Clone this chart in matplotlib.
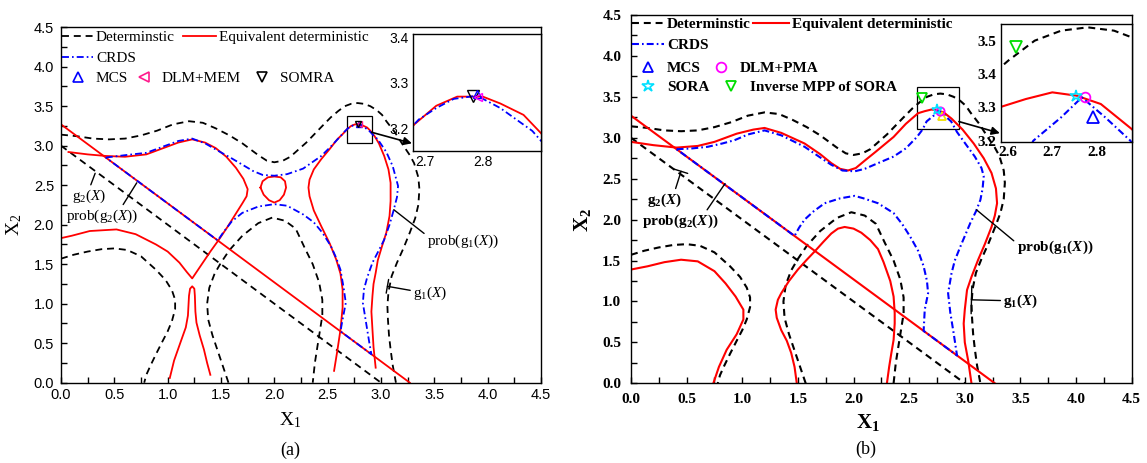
import matplotlib
matplotlib.use("Agg")
import matplotlib.pyplot as plt
from matplotlib.patches import Rectangle
from matplotlib.lines import Line2D
from matplotlib.ticker import MultipleLocator, FormatStrFormatter
from matplotlib.font_manager import FontProperties

plt.rcParams.update({
    "lines.scale_dashes": False,
    "mathtext.fontset": "custom",
    "mathtext.rm": "Liberation Serif",
    "mathtext.it": "Liberation Serif:italic",
    "mathtext.bf": "Liberation Serif:bold",
    "mathtext.bfit": "Liberation Serif:italic:bold",
    "axes.linewidth": 1.0,
})

# ---------------- data ----------------
# deterministic boundaries g1 = 0 (same in both panels)
det_top_x = [0.0, 0.15, 0.3, 0.45, 0.6, 0.75, 0.9, 1.05, 1.2, 1.33, 1.45, 1.58, 1.7, 1.85, 1.93,
             2.0, 2.08, 2.15, 2.3, 2.45, 2.53, 2.6, 2.66, 2.72, 2.78, 2.84, 2.9, 2.96, 3.01, 3.05,
             3.13, 3.21, 3.27, 3.31, 3.35, 3.36, 3.35, 3.32, 3.27, 3.21, 3.15, 3.1, 3.07, 3.06,
             3.065, 3.075, 3.09, 3.11, 3.14]
det_top_y = [3.14, 3.12, 3.09, 3.08, 3.09, 3.13, 3.19, 3.27, 3.31, 3.29, 3.22, 3.13, 3.03, 2.88, 2.81,
             2.79, 2.81, 2.86, 3.04, 3.25, 3.36, 3.44, 3.50, 3.53, 3.54, 3.53, 3.50, 3.45, 3.39, 3.31,
             3.17, 3.0, 2.88, 2.78, 2.6, 2.45, 2.25, 2.08, 1.9, 1.7, 1.52, 1.35, 1.15, 0.97,
             0.8, 0.6, 0.42, 0.22, 0.0]
det_ll_x = [0.0, 0.12, 0.25, 0.38, 0.5, 0.62, 0.75, 0.89, 0.98, 1.04, 1.07, 1.07, 1.04, 1.0, 0.95,
            0.89, 0.84, 0.8, 0.78]
det_ll_y = [1.57, 1.62, 1.66, 1.69, 1.7, 1.68, 1.6, 1.43, 1.3, 1.17, 1.05, 0.93, 0.78, 0.65, 0.52,
            0.36, 0.22, 0.1, 0.0]
det_mid_x = [1.57, 1.52, 1.47, 1.42, 1.38, 1.37, 1.39, 1.44, 1.5, 1.58, 1.7, 1.85, 1.98, 2.1, 2.2,
             2.28, 2.36, 2.42, 2.45, 2.45, 2.43, 2.41, 2.38, 2.36]
det_mid_y = [0.0, 0.2, 0.4, 0.6, 0.8, 1.0, 1.2, 1.38, 1.52, 1.68, 1.86, 2.02, 2.09, 2.05, 1.95,
             1.72, 1.5, 1.27, 1.05, 0.85, 0.68, 0.51, 0.25, 0.0]
# g2 = 0 lines
det_g2_x = [0.0, 3.0]
det_g2_y = [3.0, 0.0]
eq_g2_x = [0.0, 3.27]
eq_g2_y = [3.27, 0.0]

# panel (a): equivalent deterministic (DLM+MEM)
eqa_up_x = [0.07, 0.25, 0.42, 0.6, 0.8, 0.98, 1.1, 1.23, 1.35, 1.45, 1.55, 1.64, 1.71, 1.75, 1.74,
            1.7, 1.63, 1.56, 1.48, 1.4, 1.33, 1.27, 1.23, 1.18, 1.11, 1.0, 0.89, 0.7, 0.52, 0.27,
            0.1, 0.0]
eqa_up_y = [2.92, 2.89, 2.87, 2.86, 2.89, 2.98, 3.04, 3.08, 3.04, 2.97, 2.86, 2.72, 2.58, 2.45, 2.36,
            2.27, 2.12, 1.97, 1.81, 1.66, 1.52, 1.4, 1.32, 1.4, 1.52, 1.66, 1.75, 1.88, 1.94, 1.92,
            1.86, 1.83]
eqa_loop_x = [1.87, 1.89, 1.94, 2.0, 2.06, 2.1, 2.11, 2.09, 2.05, 2.0, 1.95, 1.9, 1.87]
eqa_loop_y = [2.47, 2.55, 2.6, 2.61, 2.6, 2.55, 2.47, 2.38, 2.31, 2.28, 2.31, 2.38, 2.47]
eqa_spike_x = [1.02, 1.06, 1.12, 1.17, 1.19, 1.2, 1.21, 1.23, 1.25, 1.255, 1.26, 1.27, 1.3, 1.34,
               1.37, 1.4]
eqa_spike_y = [0.06, 0.28, 0.51, 0.7, 0.85, 1.1, 1.19, 1.22, 1.19, 1.1, 0.9, 0.76, 0.6, 0.42,
               0.25, 0.1]
eqa_right_x = [2.56, 2.59, 2.62, 2.64, 2.64, 2.62, 2.58, 2.52, 2.44, 2.37, 2.33, 2.32, 2.33, 2.37,
               2.44, 2.52, 2.59, 2.65, 2.683, 2.72, 2.756, 2.8, 2.83, 2.87, 2.9, 2.94, 2.98, 3.03,
               3.07, 3.09, 3.09, 3.08, 3.05, 3.01, 2.97, 2.95, 2.93, 2.92, 2.91, 2.92, 2.93, 2.95]
eqa_right_y = [0.15, 0.4, 0.67, 0.95, 1.18, 1.38, 1.56, 1.76, 1.98, 2.18, 2.36, 2.47, 2.57, 2.7,
               2.83, 2.96, 3.08, 3.16, 3.21, 3.25, 3.27, 3.27, 3.255, 3.23, 3.19, 3.12, 3.03, 2.87,
               2.7, 2.53, 2.3, 2.11, 1.9, 1.73, 1.55, 1.39, 1.25, 1.1, 0.9, 0.67, 0.45, 0.19]
# panel (a): CRDS region
crds_a_x = [0.42, 0.6, 0.8, 0.98, 1.1, 1.23, 1.35, 1.48, 1.6, 1.7, 1.8, 1.89, 2.0, 2.12, 2.27,
            2.44, 2.53, 2.62, 2.66, 2.69, 2.72, 2.75, 2.79, 2.83, 2.885, 2.93, 2.97, 3.05, 3.11,
            3.16, 3.15, 3.12, 3.08, 3.03, 2.97, 2.92, 2.87, 2.84, 2.83, 2.86, 2.89, 2.91, 2.62,
            2.64, 2.67, 2.65, 2.62, 2.58, 2.53, 2.45, 2.37, 2.27, 2.12, 2.0, 1.85, 1.7, 1.6,
            1.52, 1.47, 0.42]
crds_a_y = [2.85, 2.88, 2.91, 3.0, 3.06, 3.09, 3.03, 2.93, 2.84, 2.76, 2.68, 2.63, 2.62, 2.64, 2.71,
            2.87, 2.99, 3.12, 3.18, 3.22, 3.245, 3.265, 3.272, 3.245, 3.195, 3.13, 3.08, 2.92, 2.74,
            2.49, 2.35, 2.19, 2.0, 1.81, 1.65, 1.52, 1.33, 1.18, 1.01, 0.76, 0.51, 0.36, 0.65,
            0.8, 1.01, 1.2, 1.43, 1.58, 1.73, 1.9, 2.03, 2.13, 2.24, 2.26, 2.23, 2.15, 2.04,
            1.9, 1.8, 2.85]
# panel (a): optimum points
mcs_a_x, mcs_a_y = [2.79], [3.275]
dlm_a_x, dlm_a_y = [2.792], [3.27]
somra_x, somra_y = [2.783], [3.272]

# panel (b): equivalent deterministic (DLM+PMA)
eqb_up_x = [0.0, 0.2, 0.41, 0.6, 0.75, 0.95, 1.1, 1.2, 1.35, 1.56, 1.7, 1.8, 1.88, 1.95, 2.02,
            2.1, 2.2, 2.36, 2.47, 2.58, 2.64, 2.7, 2.755, 2.81, 2.88, 2.98, 3.08, 3.17, 3.24, 3.28,
            3.29, 3.27, 3.24, 3.18, 3.12, 3.06, 3.02, 3.0, 2.99, 3.0, 3.03, 3.06]
eqb_up_y = [2.95, 2.91, 2.88, 2.9, 2.95, 3.05, 3.1, 3.12, 3.06, 2.93, 2.8, 2.69, 2.62, 2.6, 2.63,
            2.72, 2.83, 3.01, 3.17, 3.3, 3.325, 3.345, 3.335, 3.31, 3.235, 3.1, 2.93, 2.75, 2.57, 2.38,
            2.2, 2.05, 1.91, 1.7, 1.51, 1.3, 1.14, 0.9, 0.73, 0.5, 0.28, 0.0]
eqb_ll_x = [0.0, 0.15, 0.3, 0.45, 0.6, 0.75, 0.85, 0.94, 1.01, 1.01, 0.95, 0.86, 0.79, 0.74]
eqb_ll_y = [1.39, 1.43, 1.48, 1.51, 1.49, 1.37, 1.22, 1.06, 0.9, 0.78, 0.6, 0.41, 0.2, 0.0]
eqb_mid_x = [1.49, 1.47, 1.44, 1.4, 1.35, 1.31, 1.3, 1.32, 1.35, 1.42, 1.5, 1.58, 1.65, 1.73, 1.8,
             1.86, 1.92, 2.0, 2.07, 2.15, 2.22, 2.27, 2.33, 2.36, 2.37, 2.37, 2.36, 2.34, 2.32, 2.3]
eqb_mid_y = [0.0, 0.2, 0.37, 0.52, 0.65, 0.8, 0.9, 1.02, 1.1, 1.25, 1.39, 1.51, 1.61, 1.73, 1.83,
             1.89, 1.91, 1.89, 1.84, 1.75, 1.64, 1.48, 1.25, 1.06, 0.86, 0.73, 0.53, 0.37, 0.2, 0.0]
# panel (b): CRDS region
crds_b_x = [0.41, 0.55, 0.69, 0.82, 0.93, 1.05, 1.2, 1.35, 1.56, 1.7, 1.8, 1.9, 2.01, 2.1, 2.22,
            2.36, 2.47, 2.57, 2.62, 2.657, 2.72, 2.767, 2.82, 2.877, 2.93, 3.02, 3.09, 3.15, 3.17,
            3.16, 3.14, 3.1, 3.05, 2.96, 2.91, 2.88, 2.85, 2.87, 2.9, 2.93, 2.63, 2.64, 2.67,
            2.66, 2.63, 2.58, 2.51, 2.44, 2.36, 2.22, 2.09, 2.01, 1.88, 1.74, 1.64, 1.56, 1.51,
            1.47, 0.41]
crds_b_y = [2.86, 2.87, 2.89, 2.93, 2.97, 3.04, 3.09, 3.03, 2.89, 2.76, 2.67, 2.6, 2.59, 2.62, 2.69,
            2.77, 2.87, 3.01, 3.1, 3.2, 3.27, 3.33, 3.27, 3.2, 3.07, 2.9, 2.77, 2.63, 2.53,
            2.38, 2.24, 2.1, 1.96, 1.67, 1.5, 1.34, 1.1, 0.86, 0.61, 0.34, 0.64, 0.9, 1.1,
            1.25, 1.43, 1.62, 1.79, 1.94, 2.08, 2.2, 2.26, 2.29, 2.26, 2.2, 2.1, 2.0, 1.9,
            1.8, 2.86]
# panel (b): optimum points
mcs_b_x, mcs_b_y = [2.792], [3.27]
dlm_b_x, dlm_b_y = [2.773], [3.33]
sora_x, sora_y = [2.754], [3.335]
impp_x, impp_y = [2.617], [3.48]

# ---------------- styling ----------------
W, H = 1147, 463
DASH = (0, (5, 3.5))
DASHDOT = (0, (5, 2.2, 1.2, 2.2))
RED = "#ff0000"
BLUE = "#0000ff"
PINK = "#ff1a8c"
MAG = "#ff00ff"
CYAN = "#00e0ff"
GREEN = "#00dd00"

fp_a = FontProperties(family="Liberation Serif", size=11)
fp_b = FontProperties(family="Liberation Serif", size=11, weight="bold")
tick_a = FontProperties(family="Liberation Sans", size=10.5)
tick_b = FontProperties(family="Liberation Serif", size=11, weight="bold")

fig = plt.figure(figsize=(W / 100, H / 100), dpi=100)


def px_axes(left, right, top, bottom):
    return fig.add_axes([left / W, 1 - bottom / H, (right - left) / W, (bottom - top) / H])


def style_main(ax, tfp, pad_x, pad_y):
    ax.set_xlim(0, 4.5)
    ax.set_ylim(0, 4.5)
    for axis in (ax.xaxis, ax.yaxis):
        axis.set_major_locator(MultipleLocator(0.5))
        axis.set_minor_locator(MultipleLocator(0.25))
        axis.set_major_formatter(FormatStrFormatter("%.1f"))
    ax.tick_params(which="both", direction="in", length=4, width=1.0, top=False, right=False)
    ax.tick_params(axis="x", pad=pad_x)
    ax.tick_params(axis="y", pad=pad_y)
    for lab in ax.get_xticklabels() + ax.get_yticklabels():
        lab.set_fontproperties(tfp)


def entry(handle, label, x_px, y_px, fp, hl_px=31):
    em = fp.get_size_in_points() * 100 / 72
    fig.legend(handles=[handle], labels=[label], loc="center left",
               bbox_to_anchor=(x_px / W, 1 - y_px / H), frameon=False,
               borderpad=0, borderaxespad=0, handlelength=hl_px / em,
               handletextpad=3 / em, prop=fp, numpoints=1)


def leader(ax, text, xy, xytext, fp, ha, relpos, bar=None):
    props = dict(arrowstyle="-", color="k", lw=1.0, shrinkA=0, shrinkB=0, relpos=relpos)
    if bar is not None:
        props["arrowstyle"] = f"-[, widthB={bar}, lengthB=0"
        props["mutation_scale"] = 10
    ax.annotate(text, xy=xy, xytext=xytext, fontproperties=fp, ha=ha, va="center",
                arrowprops=props, annotation_clip=False)


# ======================= panel (a) =======================
ax = px_axes(61, 541, 27.2, 382.7)
lw = 1.3
for xs, ys in [(det_top_x, det_top_y), (det_ll_x, det_ll_y), (det_mid_x, det_mid_y),
               (det_g2_x, det_g2_y)]:
    ax.plot(xs, ys, color="k", ls=DASH, lw=lw)
for xs, ys in [(eqa_up_x, eqa_up_y), (eqa_loop_x, eqa_loop_y), (eqa_spike_x, eqa_spike_y),
               (eqa_right_x, eqa_right_y), (eq_g2_x, eq_g2_y)]:
    ax.plot(xs, ys, color=RED, lw=lw)
ax.plot(crds_a_x, crds_a_y, color=BLUE, ls=DASHDOT, lw=lw)
ax.plot(mcs_a_x, mcs_a_y, ls="none", marker="^", mfc="none", mec=BLUE, ms=5)
ax.plot(dlm_a_x, dlm_a_y, ls="none", marker="<", mfc="none", mec=PINK, ms=5)
ax.plot(somra_x, somra_y, ls="none", marker="v", mfc="none", mec="k", ms=5)
ax.add_patch(Rectangle((2.678, 3.04), 0.234, 0.336, fill=False, ec="k", lw=0.9))
ax.annotate("", xy=(3.29, 3.03), xytext=(2.912, 3.17),
            arrowprops=dict(arrowstyle="-|>", color="k", lw=1.2, mutation_scale=12,
                            shrinkA=0, shrinkB=0), annotation_clip=False)
style_main(ax, tick_a, 4, 5)
ax.set_xlabel("X$_1$", fontproperties=FontProperties(family="Liberation Serif", size=14))
ax.set_ylabel("X$_2$", fontproperties=FontProperties(family="Liberation Serif", size=14))
ax.xaxis.set_label_coords(0.477, -0.077)
ax.yaxis.set_label_coords(-0.077, 0.444)

leader(ax, "g$_2$($\\mathit{X}$)", (0.32, 2.65), (0.26, 2.36), fp_a, "center", (0.53, 1.0))
leader(ax, "prob(g$_2$($\\mathit{X}$))", (0.71, 2.53), (0.39, 2.11), fp_a, "center", (0.76, 1.0))
leader(ax, "prob(g$_1$($\\mathit{X}$))", (3.12, 2.19), (3.43, 1.785), fp_a, "left", (0.0, 0.85))
leader(ax, "g$_1$($\\mathit{X}$)", (3.06, 1.22), (3.30, 1.13), fp_a, "left", (0.0, 0.65), bar=0.5)

h_det = Line2D([], [], color="k", ls=DASH, lw=lw)
h_eq = Line2D([], [], color=RED, lw=lw)
h_crds = Line2D([], [], color=BLUE, ls=DASHDOT, lw=lw)
entry(h_det, "Determinstic", 62, 37, fp_a)
entry(h_eq, "Equivalent deterministic", 183, 37, fp_a, hl_px=33)
entry(h_crds, "CRDS", 62, 58, fp_a)
entry(Line2D([], [], ls="none", marker="^", mfc="none", mec=BLUE, ms=7, mew=1.2),
      "MCS", 62, 78, fp_a)
entry(Line2D([], [], ls="none", marker="<", mfc="none", mec=PINK, ms=7, mew=1.2),
      "DLM+MEM", 128, 78, fp_a)
entry(Line2D([], [], ls="none", marker="v", mfc="none", mec="k", ms=7, mew=1.2),
      "SOMRA", 246, 78, fp_a)

# inset (a)
ins = px_axes(413, 541, 34, 151)
ins.plot(eqa_right_x, eqa_right_y, color=RED, lw=lw)
ins.plot(crds_a_x, crds_a_y, color=BLUE, ls=DASHDOT, lw=lw)
ins.plot(somra_x, somra_y, ls="none", marker="v", mfc="none", mec="k", ms=8, mew=1.0)
ins.plot(mcs_a_x, mcs_a_y, ls="none", marker="^", mfc="none", mec=BLUE, ms=6, mew=1.0)
ins.plot(dlm_a_x, dlm_a_y, ls="none", marker="<", mfc="none", mec=MAG, ms=6, mew=1.0)
ins.set_xlim(2.68, 2.9)
ins.set_ylim(3.151, 3.407)
ins.set_xticks([2.7, 2.8])
ins.set_yticks([3.2, 3.3, 3.4])
ins.tick_params(length=0, pad=3)
for lab in ins.get_xticklabels() + ins.get_yticklabels():
    lab.set_fontproperties(FontProperties(family="Liberation Sans", size=10))

fig.text(290 / W, 1 - 450 / H, "(a)", ha="center", va="center",
         fontproperties=FontProperties(family="Liberation Serif", size=13))

# ======================= panel (b) =======================
ax = px_axes(631, 1131.7, 15, 383.3)
lw = 1.5
for xs, ys in [(det_top_x, det_top_y), (det_ll_x, det_ll_y), (det_mid_x, det_mid_y),
               (det_g2_x, det_g2_y)]:
    ax.plot(xs, ys, color="k", ls=DASH, lw=lw)
for xs, ys in [(eqb_up_x, eqb_up_y), (eqb_ll_x, eqb_ll_y), (eqb_mid_x, eqb_mid_y),
               (eq_g2_x, eq_g2_y)]:
    ax.plot(xs, ys, color=RED, lw=lw)
ax.plot(crds_b_x, crds_b_y, color=BLUE, ls=DASHDOT, lw=lw)
ax.plot(impp_x, impp_y, ls="none", marker="v", mfc="none", mec=GREEN, ms=7, mew=1.3)
ax.plot(mcs_b_x, mcs_b_y, ls="none", marker="^", mfc="none", mec="#f0e000", ms=6, mew=1.3)
ax.plot(dlm_b_x, dlm_b_y, ls="none", marker="o", mfc="none", mec=MAG, ms=6, mew=1.3)
ax.plot(sora_x, sora_y, ls="none", marker="*", mfc="none", mec=CYAN, ms=8, mew=1.2)
ax.add_patch(Rectangle((2.567, 3.105), 0.38, 0.514, fill=False, ec="k", lw=0.9))
ax.annotate("", xy=(3.315, 3.056), xytext=(2.947, 3.198),
            arrowprops=dict(arrowstyle="-|>", color="k", lw=1.2, mutation_scale=12,
                            shrinkA=0, shrinkB=0), annotation_clip=False)
style_main(ax, tick_b, 7, 7)
ax.set_xlabel("X$_\\mathbf{1}$", fontproperties=FontProperties(family="Liberation Serif", size=15,
                                                                 weight="bold"))
ax.set_ylabel("X$_\\mathbf{2}$", fontproperties=FontProperties(family="Liberation Serif", size=15,
                                                                 weight="bold"))
ax.xaxis.set_label_coords(0.473, -0.077)
ax.yaxis.set_label_coords(-0.076, 0.443)

leader(ax, "g$_\\mathbf{2}$($\\mathbfit{X}$)", (0.45, 2.59), (0.305, 2.24), fp_b, "center",
       (0.78, 1.0), bar=0.5)
leader(ax, "prob(g$_\\mathbf{2}$($\\mathbfit{X}$))", (0.845, 2.44), (0.44, 1.98), fp_b, "center",
       (0.83, 1.0))
leader(ax, "prob(g$_\\mathbf{1}$($\\mathbfit{X}$))", (3.105, 2.12), (3.465, 1.66), fp_b, "left",
       (0.0, 0.75))
leader(ax, "g$_\\mathbf{1}$($\\mathbfit{X}$)", (3.06, 1.02), (3.345, 1.0), fp_b, "left",
       (0.0, 0.55), bar=1.0)

h_det = Line2D([], [], color="k", ls=DASH, lw=lw)
h_eq = Line2D([], [], color=RED, lw=lw)
h_crds = Line2D([], [], color=BLUE, ls=DASHDOT, lw=lw)
entry(h_det, "Determinstic", 632, 24, fp_b, hl_px=32)
entry(h_eq, "Equivalent deterministic", 753, 24, fp_b, hl_px=36)
entry(h_crds, "CRDS", 632, 45, fp_b, hl_px=32)
entry(Line2D([], [], ls="none", marker="^", mfc="none", mec=BLUE, ms=7, mew=1.3),
      "MCS", 632, 68, fp_b, hl_px=32)
entry(Line2D([], [], ls="none", marker="o", mfc="none", mec=MAG, ms=7, mew=1.3),
      "DLM+PMA", 705, 68, fp_b, hl_px=32)
entry(Line2D([], [], ls="none", marker="*", mfc="none", mec=CYAN, ms=9, mew=1.2),
      "SORA", 632, 87, fp_b, hl_px=32)
entry(Line2D([], [], ls="none", marker="v", mfc="none", mec=GREEN, ms=7, mew=1.3),
      "Inverse MPP of SORA", 715, 87, fp_b, hl_px=32)

# inset (b)
ins = px_axes(1000.7, 1131.7, 24, 141.7)
ins.plot(det_top_x, det_top_y, color="k", ls=DASH, lw=lw)
ins.plot(eqb_up_x, eqb_up_y, color=RED, lw=lw)
ins.plot(crds_b_x, crds_b_y, color=BLUE, ls=DASHDOT, lw=lw)
ins.plot(impp_x, impp_y, ls="none", marker="v", mfc="none", mec=GREEN, ms=8, mew=1.3)
ins.plot(mcs_b_x, mcs_b_y, ls="none", marker="^", mfc="none", mec=BLUE, ms=8, mew=1.3)
ins.plot(dlm_b_x, dlm_b_y, ls="none", marker="o", mfc="none", mec=MAG, ms=7, mew=1.3)
ins.plot(sora_x, sora_y, ls="none", marker="*", mfc="none", mec=CYAN, ms=9, mew=1.2)
ins.set_xlim(2.583, 2.88)
ins.set_ylim(3.197, 3.55)
ins.set_xticks([2.6, 2.7, 2.8])
ins.set_yticks([3.2, 3.3, 3.4, 3.5])
ins.tick_params(length=0, pad=3)
for lab in ins.get_xticklabels() + ins.get_yticklabels():
    lab.set_fontproperties(tick_b)

fig.text(866 / W, 1 - 449 / H, "(b)", ha="center", va="center",
         fontproperties=FontProperties(family="Liberation Serif", size=13))

fig.savefig("out.png", dpi=100)
